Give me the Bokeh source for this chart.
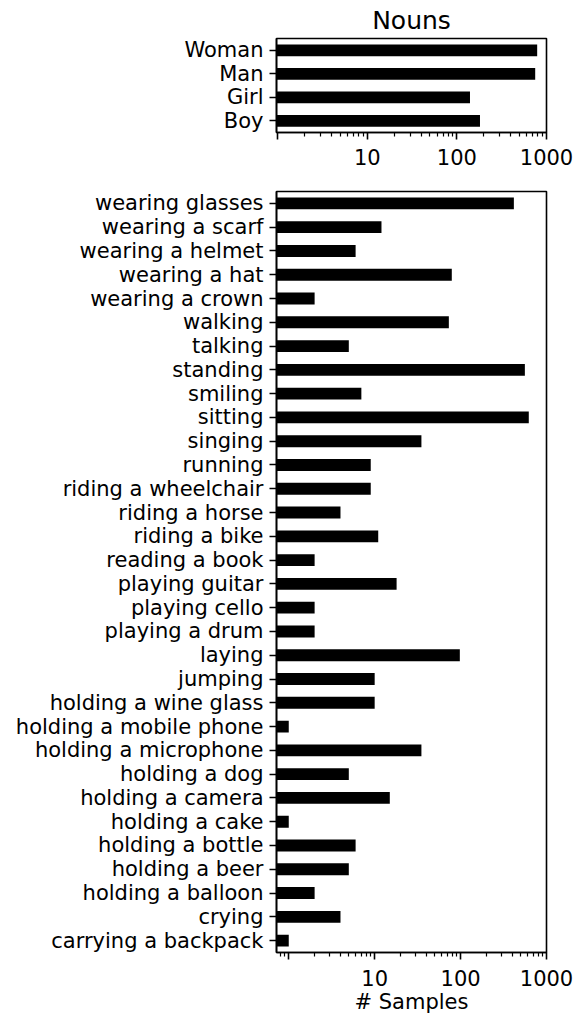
from bokeh.plotting import figure
from bokeh.layouts import column
from bokeh.models import FactorRange, Range1d, FixedTicker, ColumnDataSource
from bokeh.embed import file_html
from bokeh.resources import INLINE

# ---- data ----
nouns = ["Boy", "Girl", "Man", "Woman"]
noun_counts = [181, 140, 748, 787]

actions = [
    "carrying a backpack", "crying", "holding a balloon", "holding a beer",
    "holding a bottle", "holding a cake", "holding a camera", "holding a dog",
    "holding a microphone", "holding a mobile phone", "holding a wine glass",
    "jumping", "laying", "playing a drum", "playing cello", "playing guitar",
    "reading a book", "riding a bike", "riding a horse", "riding a wheelchair",
    "running", "singing", "sitting", "smiling", "standing", "talking",
    "walking", "wearing a crown", "wearing a hat", "wearing a helmet",
    "wearing a scarf", "wearing glasses",
]
action_counts = [
    1, 4, 2, 5,
    6, 1, 15, 5,
    35, 1, 10,
    10, 98, 2, 2, 18,
    2, 11, 4, 9,
    9, 35, 622, 7, 560, 5,
    73, 2, 79, 6,
    12, 417,
]

major_ticks = [1, 10, 100, 1000]
minor_ticks = [0.8, 0.9, 2, 3, 4, 5, 6, 7, 8, 9, 20, 30, 40, 50, 60, 70, 80, 90,
               200, 300, 400, 500, 600, 700, 800, 900]
tick_labels = {1: "", 10: "10", 100: "100", 1000: "1000"}

FONT = "DejaVu Sans"
W = 576
LEFT = 276
RIGHT = 30


def style(p, xstandoff):
    p.grid.visible = False
    p.outline_line_color = "black"
    p.outline_line_width = 1.6
    p.outline_line_alpha = 1
    p.background_fill_color = "white"
    p.border_fill_color = "white"
    for ax in (p.xaxis, p.yaxis):
        ax.axis_line_width = 1.6
        ax.axis_line_color = "black"
        ax.major_tick_line_width = 1.6
        ax.major_tick_line_color = "black"
        ax.major_tick_out = 7
        ax.major_tick_in = 0
        ax.major_label_text_font = FONT
        ax.major_label_text_font_size = "21px"
        ax.major_label_text_color = "black"
    p.yaxis.minor_tick_line_color = None
    p.yaxis.major_label_standoff = 6
    p.xaxis.ticker = FixedTicker(ticks=major_ticks, minor_ticks=minor_ticks)
    p.xaxis.major_label_overrides = tick_labels
    p.xaxis.minor_tick_line_width = 1.2
    p.xaxis.minor_tick_line_color = "black"
    p.xaxis.minor_tick_out = 4
    p.xaxis.minor_tick_in = 0
    p.xaxis.major_label_standoff = xstandoff


# ---- top panel ----
top_start = 0.97
top = figure(width=W, height=183, x_axis_type="log",
             x_range=Range1d(top_start, 1000), y_range=FactorRange(*nouns),
             output_backend="svg", toolbar_location=None,
             min_border_left=LEFT, min_border_right=RIGHT,
             min_border_top=38, min_border_bottom=51)
src_top = ColumnDataSource(dict(y=nouns, right=noun_counts))
top.hbar(y="y", right="right", left=top_start, height=0.5, source=src_top,
         fill_color="black", line_color=None)
style(top, 9)
top.title.text = "Nouns"
top.title.align = "center"
top.title.text_font = FONT
top.title.text_font_size = "25px"
top.title.text_font_style = "normal"
top.title.text_color = "black"
top.title.standoff = 7
top.title.offset = 0

# ---- bottom panel ----
bot_start = 0.72
bot = figure(width=W, height=834, x_axis_type="log",
             x_range=Range1d(bot_start, 1000), y_range=FactorRange(*actions),
             output_backend="svg", toolbar_location=None,
             min_border_left=LEFT, min_border_right=RIGHT,
             min_border_top=8, min_border_bottom=65)
src_bot = ColumnDataSource(dict(y=actions, right=action_counts))
bot.hbar(y="y", right="right", left=bot_start, height=0.5, source=src_bot,
         fill_color="black", line_color=None)
style(bot, 10)
bot.xaxis.axis_label = "# Samples"
bot.xaxis.axis_label_text_font = FONT
bot.xaxis.axis_label_text_font_size = "21px"
bot.xaxis.axis_label_text_font_style = "normal"
bot.xaxis.axis_label_text_color = "black"
bot.xaxis.axis_label_standoff = 1

layout = column(top, bot, spacing=0)
open("out.html", "w").write(file_html(layout, INLINE))
